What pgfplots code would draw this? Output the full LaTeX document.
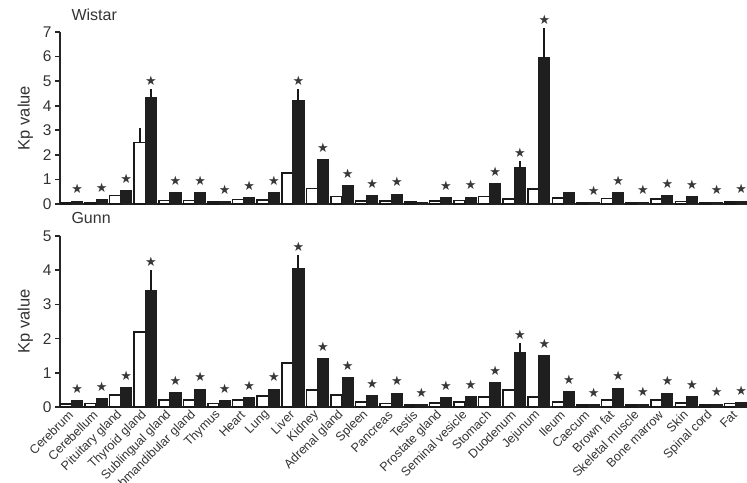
\documentclass[border=0pt]{standalone}
\usepackage{pgfplots}
\pgfplotsset{compat=1.18}
\usepackage{pgfplotstable}
\usepackage{fontspec}
\setmainfont{Liberation Sans}
\newfontfamily\starfont{DejaVu Sans}

\pgfplotstableread{
x  wW   eW   wB   eB   s
0  0.06 0    0.12 0    1
1  0.06 0    0.18 0    1
2  0.35 0    0.55 0    1
3  2.50 0.45 4.35 0.18 1
4  0.15 0    0.45 0    1
5  0.15 0    0.47 0    1
6  0.08 0    0.10 0    1
7  0.18 0    0.27 0    1
8  0.17 0    0.47 0    1
9  1.25 0    4.20 0.32 1
10 0.63 0    1.80 0    1
11 0.30 0    0.75 0    1
12 0.12 0    0.34 0    1
13 0.12 0    0.40 0    1
14 0.08 0    0.08 0    0
15 0.12 0    0.27 0    1
16 0.15 0    0.28 0    1
17 0.30 0    0.82 0    1
18 0.20 0    1.50 0.10 1
19 0.60 0    5.95 1.05 1
20 0.25 0    0.48 0    0
21 0.05 0    0.06 0    1
22 0.22 0    0.45 0    1
23 0.06 0    0.08 0    1
24 0.20 0    0.34 0    1
25 0.10 0    0.31 0    1
26 0.06 0    0.08 0    1
27 0.08 0    0.12 0    1
}\wistar

\pgfplotstableread{
x  wW   eW   wB   eB   s
0  0.08 0    0.18 0    1
1  0.10 0    0.24 0    1
2  0.35 0    0.56 0    1
3  2.20 0    3.40 0.50 1
4  0.20 0    0.42 0    1
5  0.20 0    0.52 0    1
6  0.10 0    0.18 0    1
7  0.20 0    0.27 0    1
8  0.32 0    0.52 0    1
9  1.28 0    4.05 0.28 1
10 0.50 0    1.42 0    1
11 0.35 0    0.86 0    1
12 0.15 0    0.34 0    1
13 0.10 0    0.40 0    1
14 0.06 0    0.06 0    1
15 0.12 0    0.28 0    1
16 0.15 0    0.30 0    1
17 0.30 0    0.71 0    1
18 0.50 0    1.60 0.16 1
19 0.30 0    1.50 0    1
20 0.15 0    0.45 0    1
21 0.06 0    0.06 0    1
22 0.20 0    0.55 0    1
23 0.06 0    0.08 0    1
24 0.20 0    0.40 0    1
25 0.12 0    0.30 0    1
26 0.06 0    0.08 0    1
27 0.10 0    0.12 0    1
}\gunn

\pgfplotsset{
  kpaxis/.style={
    scale only axis, width=688pt,
    xmin=-0.47, xmax=27.5,
    axis x line*=bottom, axis y line*=left,
    axis line style={line width=2.4pt, black!85, -},
    xtick={0,...,27}, x tick style={draw=none},
    y tick style={line width=1.6pt, black!85},
    tick align=outside, major tick length=5pt,
    yticklabel style={font=\fontsize{15.5}{15.5}\selectfont, text=black!80},
    /pgf/number format/assume math mode=true,
    ylabel={Kp value},
    ylabel style={font=\fontsize{16.5}{16.5}\selectfont, text=black!80, yshift=3pt},
    title style={at={(axis description cs:0,1)}, anchor=base west, xshift=8pt,
      font=\fontsize{16}{16}\selectfont, text=black!80},
    clip=false,
  },
  wbar/.style={ybar, bar width=0.45, bar shift=0, fill=white, draw=black!90,
    line width=1.6pt},
  bbar/.style={ybar, bar width=0.45, bar shift=0, fill=black!88, draw=black!88,
    line width=1pt},
  errs/.style={draw=none, mark=none,
    error bars/.cd, y dir=plus, y explicit,
    error bar style={draw=black!90, line width=2pt},
    error mark options={draw=black!90, line width=2pt, mark size=3.5pt}},
  stars/.style={only marks, mark=text, text mark as node=true,
    text mark={\starfont\fontsize{13}{13}\selectfont ★},
    mark options={yshift=12pt, text=black!78, inner sep=0pt},
    restrict expr to domain={\thisrow{s}}{0.5:1.5}},
}

\begin{document}
\begin{tikzpicture}
\useasboundingbox (0,0) rectangle (747pt,482pt);
\begin{axis}[kpaxis, at={(60pt,278pt)}, anchor=south west, height=172pt,
  ymin=0, ymax=7, ytick={0,...,7}, xticklabels={},
  title={Wistar}, title style={yshift=5pt}]
  \addplot[wbar] table[x expr=\thisrow{x}-0.225, y=wW] {\wistar};
  \addplot[bbar] table[x expr=\thisrow{x}+0.225, y=wB] {\wistar};
  \addplot[restrict expr to domain={\thisrow{eW}}{0.01:10}, errs]
    table[x expr=\thisrow{x}-0.225, y=wW, y error=eW] {\wistar};
  \addplot[restrict expr to domain={\thisrow{eB}}{0.01:10}, errs]
    table[x expr=\thisrow{x}+0.225, y=wB, y error=eB] {\wistar};
  \addplot[stars] table[x expr=\thisrow{x}+0.225, y expr=\thisrow{wB}+\thisrow{eB}] {\wistar};
\end{axis}
\begin{axis}[kpaxis, at={(60pt,75pt)}, anchor=south west, height=171pt,
  ymin=0, ymax=5, ytick={0,...,5},
  title={Gunn}, title style={yshift=7pt},
  xticklabels={Cerebrum, Cerebellum, Pituitary gland, Thyroid gland, Sublingual gland,
    Submandibular gland, Thymus, Heart, Lung, Liver, Kidney, Adrenal gland, Spleen,
    Pancreas, Testis, Prostate gland, Seminal vesicle, Stomach, Duodenum, Jejunum,
    Ileum, Caecum, Brown fat, Skeletal muscle, Bone marrow, Skin, Spinal cord, Fat},
  xticklabel style={rotate=45, anchor=east, font=\fontsize{12.5}{12.5}\selectfont,
    text=black!80, inner sep=1pt}]
  \addplot[wbar] table[x expr=\thisrow{x}-0.225, y=wW] {\gunn};
  \addplot[bbar] table[x expr=\thisrow{x}+0.225, y=wB] {\gunn};
  \addplot[restrict expr to domain={\thisrow{eB}}{0.01:10}, errs]
    table[x expr=\thisrow{x}+0.225, y=wB, y error=eB] {\gunn};
  \addplot[stars] table[x expr=\thisrow{x}+0.225, y expr=\thisrow{wB}+\thisrow{eB}] {\gunn};
\end{axis}
\end{tikzpicture}
\end{document}
